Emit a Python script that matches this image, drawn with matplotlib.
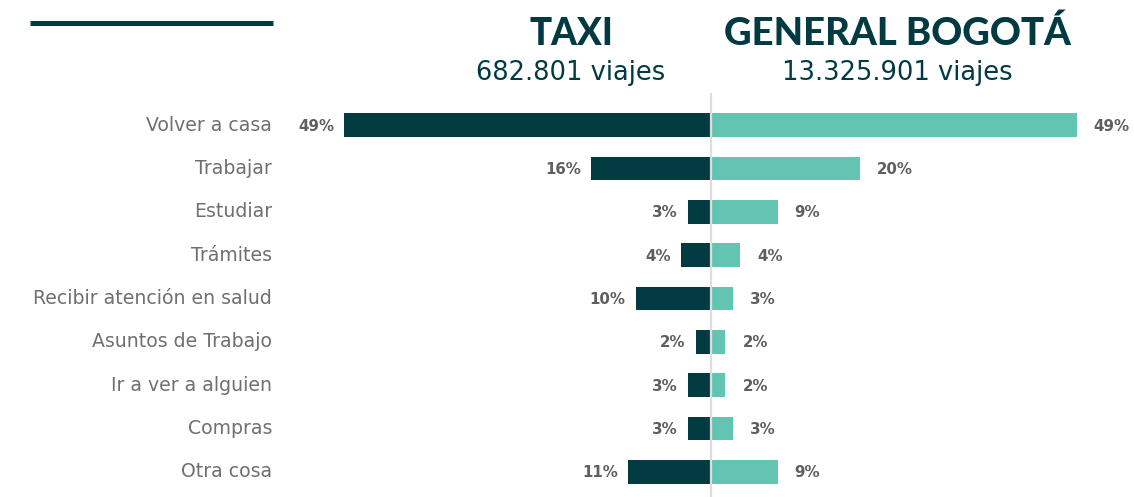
import matplotlib
matplotlib.use("Agg")
import matplotlib.pyplot as plt
from matplotlib.lines import Line2D
import numpy as np

# Motivo de viaje: taxi vs. total Bogotá (% de viajes)
categories = [
    "Volver a casa", "Trabajar", "Estudiar", "Trámites",
    "Recibir atención en salud", "Asuntos de Trabajo",
    "Ir a ver a alguien", "Compras", "Otra cosa",
]
taxi_pct = [49, 16, 3, 4, 10, 2, 3, 3, 11]
general_pct = [49, 20, 9, 4, 3, 2, 2, 3, 9]

taxi_title = "TAXI"
taxi_trips = "682.801 viajes"
general_title = "GENERAL BOGOTÁ"
general_trips = "13.325.901 viajes"

DARK = "#023a41"
TEAL = "#63c5b1"
GRAY_TXT = "#707070"
VAL_TXT = "#5f5f5f"
FONT = "DejaVu Sans"
HEAD_FONT = "Lato"

W, H = 1134, 497
fig = plt.figure(figsize=(W / 100, H / 100), dpi=100)
fig.patch.set_facecolor("white")

# axes spans from the label column to the right edge, below the headers
ax_l, ax_r, ax_top = 280, 1134, 93
ax = fig.add_axes([ax_l / W, 0, (ax_r - ax_l) / W, (H - ax_top) / H])
px_per_pct = 7.47
zero_px = 710.5
ax.set_xlim(-(zero_px - ax_l) / px_per_pct, (ax_r - zero_px) / px_per_pct)
ax.set_ylim(8.58, -0.74)
ax.axis("off")

y = np.arange(len(categories))
bar_h = 0.55
ax.barh(y, [-v for v in taxi_pct], height=bar_h, color=DARK, zorder=2)
ax.barh(y, general_pct, height=bar_h, color=TEAL, zorder=2)
ax.axvline(0, color="#dedede", linewidth=1.6, zorder=3)

for yi, v in zip(y, taxi_pct):
    ax.annotate(f"{v}%", (-v, yi), xytext=(-10, -1), textcoords="offset pixels",
                ha="right", va="center", fontsize=10.8, fontweight="bold",
                color=VAL_TXT, family=FONT)
for yi, v in zip(y, general_pct):
    ax.annotate(f"{v}%", (v, yi), xytext=(17, -1), textcoords="offset pixels",
                ha="left", va="center", fontsize=10.8, fontweight="bold",
                color=VAL_TXT, family=FONT)

# category names on the left
for yi, name in zip(y, categories):
    ax.annotate(name, (ax.get_xlim()[0], yi), xytext=(-8, 0), textcoords="offset pixels",
                ha="right", va="center", fontsize=13.6, color=GRAY_TXT, family=FONT,
                annotation_clip=False)

# headers
fig.text(571 / W, 1 - 45 / H, taxi_title, ha="center", va="baseline",
         fontsize=26.5, fontweight="black", color=DARK, family=HEAD_FONT)
fig.text(571 / W, 1 - 80 / H, taxi_trips, ha="center", va="baseline",
         fontsize=18.5, color=DARK, family=FONT)
fig.text(897 / W, 1 - 45 / H, general_title, ha="center", va="baseline",
         fontsize=27.5, fontweight="black", color=DARK, family=HEAD_FONT)
fig.text(897 / W, 1 - 80 / H, general_trips, ha="center", va="baseline",
         fontsize=18.5, color=DARK, family=FONT)

# decorative rule top-left
fig.add_artist(Line2D([30 / W, 273 / W], [1 - 22.5 / H, 1 - 22.5 / H],
                      color=DARK, linewidth=3.6, solid_capstyle="butt"))

fig.savefig("out.png", dpi=100, facecolor="white")
